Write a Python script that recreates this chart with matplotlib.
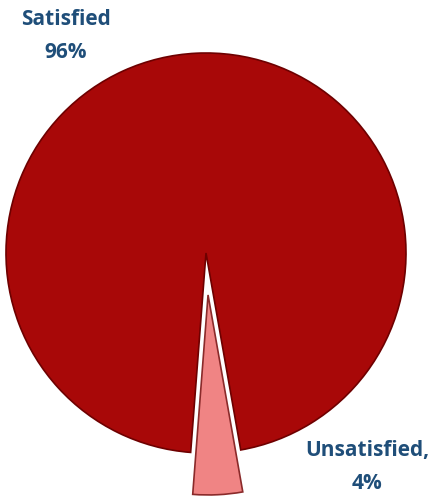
import matplotlib

matplotlib.use("Agg")

import matplotlib.pyplot as plt  # noqa: E402

# survey result shares
categories = ["Satisfied", "Unsatisfied"]
shares = [96, 4]
label_texts = ["Satisfied\n96%", "Unsatisfied,\n4%"]
colors = ["#A80808", "#F08484"]
edge_colors = ["#6E0000", "#8A2A2A"]

W, H = 433, 497
R = 200  # pie radius in pixels
fig = plt.figure(figsize=(W / 100, H / 100), dpi=100)
ax = fig.add_axes([0, 0, 1, 1])

# pie centre / radius in pixel units (axes fill the figure)
wedges, _ = ax.pie(
    shares,
    colors=colors,
    startangle=280,
    counterclock=True,
    explode=[0, 0.21 * R],
    center=(206, H - 253),
    radius=R,
    frame=True,
    wedgeprops=dict(linewidth=1.2),
)
for w, ec in zip(wedges, edge_colors):
    w.set_edgecolor(ec)
ax.set_xlim(0, W)
ax.set_ylim(0, H)
ax.set_aspect("equal")
ax.axis("off")

font = dict(family=["Open Sans", "DejaVu Sans"], fontsize=15, fontweight="bold",
            color="#1F4E79", ha="center", va="center", linespacing=1.75)
ax.text(66, H - 36, label_texts[0], **font)
ax.text(367, H - 467, label_texts[1], **font)

fig.savefig("out.png", dpi=100)
